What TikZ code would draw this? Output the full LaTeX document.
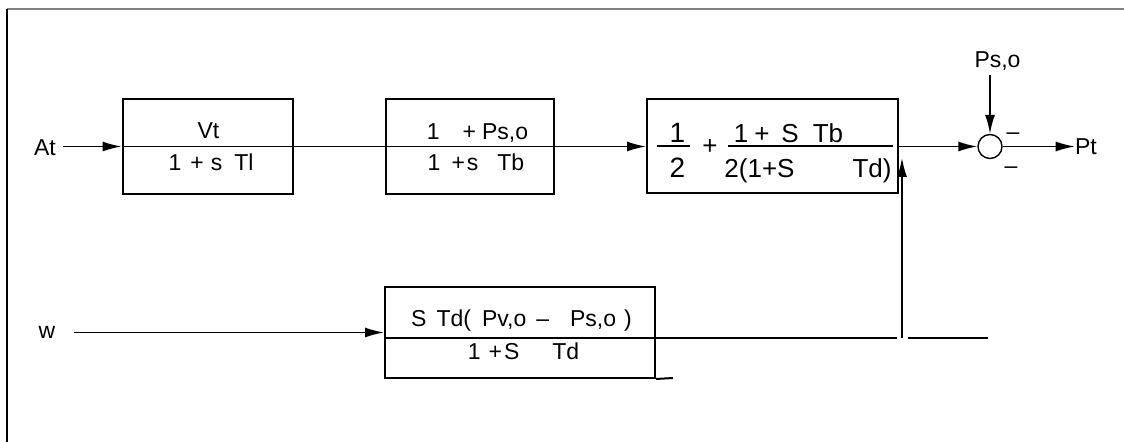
\documentclass[tikz,border=0pt]{standalone}
\usepackage{fontspec}
\setmainfont{Liberation Sans}
\usetikzlibrary{arrows.meta}
\newcommand{\hsp}[1]{\hspace{#1pt}}

\begin{document}
\begin{tikzpicture}[x=0.5pt,y=-0.5pt,
  blk/.style={draw,line width=1pt,inner sep=0pt},
  sig/.style={line width=0.8pt},
  arr/.style={sig,-{Latex[length=9.5pt,width=5pt]}},
  txt/.style={anchor=base,inner sep=0pt,font=\fontsize{11.5}{13}\selectfont},
  big/.style={txt,font=\fontsize{13}{15}\selectfont},
  lbl/.style={txt,font=\fontsize{11.5}{13}\selectfont}]
  \useasboundingbox (0,0) rectangle (1124,442);
  % frame
  \draw[line width=1pt,gray] (6.5,9) -- (1124,9);
  \draw[line width=1pt] (6.5,9) -- (6.5,442);

  % blocks
  \node[blk,minimum width=85pt,minimum height=47.5pt] (lag) at (207.5,146.5) {};
  \node[blk,minimum width=84pt,minimum height=47.5pt] (press) at (470,146.5) {};
  \node[blk,minimum width=125.5pt,minimum height=47pt] (mix) at (772.5,146.5) {};
  \node[blk,minimum width=135pt,minimum height=45.5pt] (flow) at (520,332.5) {};
  \node[draw,circle,line width=0.7pt,minimum size=12pt,inner sep=0pt] (sum) at (990,146.5) {};

  % block texts
  \node[txt] (lagN) at (208.5,139) {Vt};
  \node[txt] (lagD) at (211,171) {1\hsp{4.5}+\hsp{3.5}s\hsp{6}Tl};
  \node[txt] (pressN) at (477.5,140) {1\hsp{11.5}+\hsp{3}Ps,o};
  \node[txt] (pressD) at (476,171) {1\hsp{5.5}+\hsp{1}s\hsp{9.5}Tb};
  \node[txt,font=\fontsize{14}{16}\selectfont] (halfN) at (677.5,143) {1};
  \node[txt,font=\fontsize{14}{16}\selectfont] (halfD) at (677.5,178) {2};
  \coordinate (hl) at (657,146);
  \coordinate (hr) at (690,146);
  \draw[sig] (hl) -- (hr);
  \node[big] (plus) at (710,155) {+};
  \node[big] (mixN) at (788.5,143) {1\hsp{3}+\hsp{6}S\hsp{7}Tb};
  \node[big] (mixD) at (808,178) {2(1+S\hsp{29}Td)};
  \coordinate (ml) at (728,146);
  \coordinate (mr) at (893,146);
  \draw[sig] (ml) -- (mr);
  \node[txt] (flowN) at (521.5,327) {S\hsp{5}Td(\hsp{5.5}Pv,o\hsp{5}–\hsp{10.5}Ps,o\hsp{4})};
  \node[txt] (flowD) at (523.5,360) {1\hsp{4}+\hsp{1}S\hsp{16.5}Td};

  % signal labels
  \node[lbl] (At) at (45,156) {At};
  \node[lbl] (w) at (47,339) {w};
  \node[lbl] (Pso) at (997.5,68) {Ps,o};
  \node[lbl] (Pt) at (1086,155) {Pt};
  \node[lbl] (mUp) at (1013,140) {–};
  \node[lbl] (mDn) at (1011,174) {–};

  % signal lines
  \draw[arr,shorten <=3.5pt] (At.east |- lag.west) -- (lag.west);
  \draw[arr] (lag.west) -- (mix.west);
  \draw[arr] (mix.east) -- (sum.west);
  \draw[arr,shorten <=2pt] (sum.north |- Pso.south) -- (sum.north);
  \draw[arr] (sum.east) -- (Pt.west |- sum.east);
  \draw[arr,shorten <=9pt] (w.east |- flow.west) -- (flow.west);

  % feedback into the mixing block
  \coordinate (fbK) at (897,338);
  \coordinate (fbB) at (902,338);
  \coordinate (fbT) at (902,158);
  \coordinate (tlA) at (908,338);
  \coordinate (tlB) at (988,338);
  \coordinate (ext) at (673,378);
  \draw[sig] (flow.west |- fbK) -- (fbK);
  \draw[arr] (fbB) -- (fbT);
  \draw[sig] (tlA) -- (tlB);
  \draw[line width=1pt] (flow.south east) -- (ext);
\end{tikzpicture}
\end{document}
